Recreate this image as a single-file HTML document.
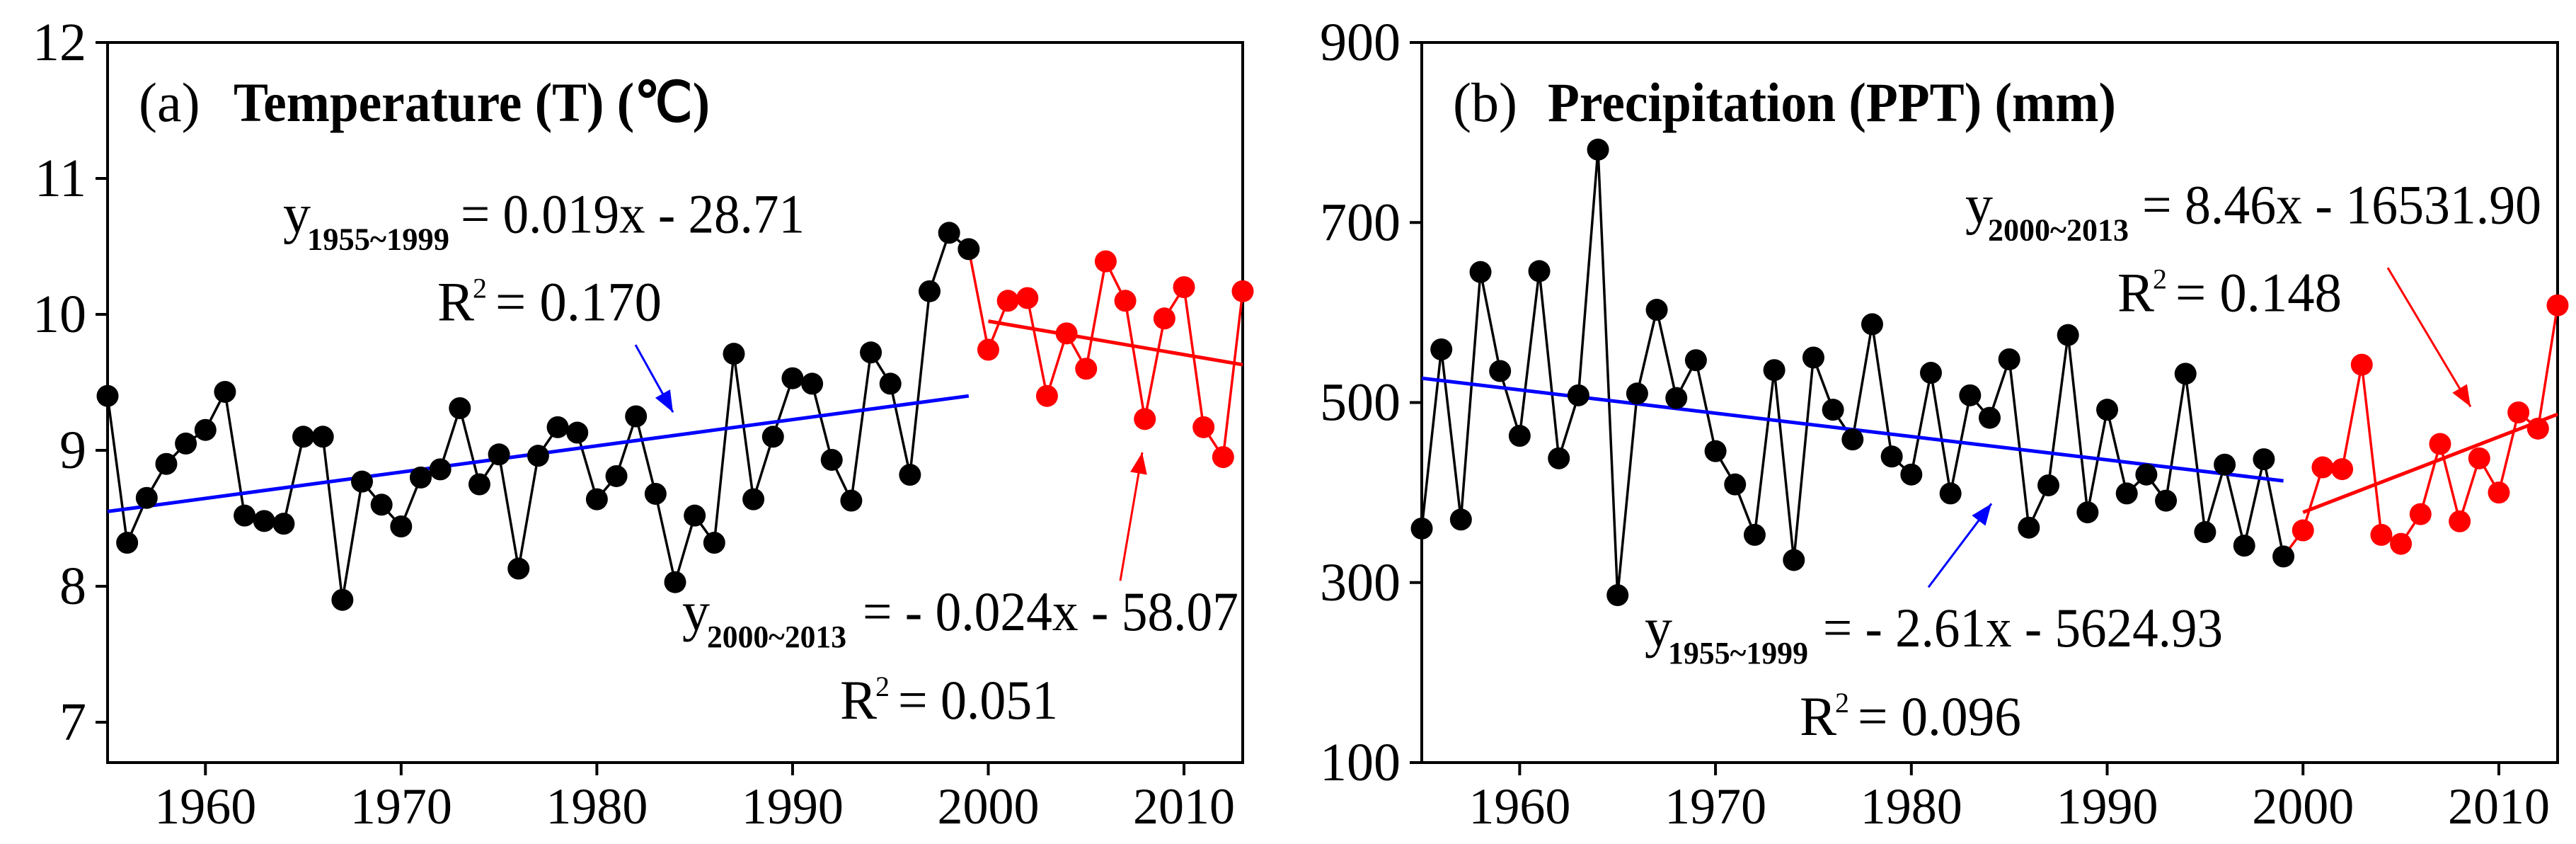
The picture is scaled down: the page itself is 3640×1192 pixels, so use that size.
<!DOCTYPE html>
<html><head><meta charset="utf-8"><style>
html,body{margin:0;padding:0;background:#fff}
svg{display:block}
svg text{font-family:"Liberation Serif","Times New Roman",serif}
</style></head><body>
<svg id="chart" xmlns="http://www.w3.org/2000/svg" width="3640" height="1192" viewBox="0 0 3640 1192" font-family="Liberation Serif, serif"></svg>
<script>
const years = [];
for (let y = 1955; y <= 2013; y++) years.push(y);
const tempValues = [9.4,8.32,8.65,8.9,9.05,9.15,9.43,8.52,8.48,8.46,9.1,9.1,7.9,8.77,8.6,8.44,8.8,8.86,9.31,8.75,8.97,8.13,8.96,9.17,9.13,8.64,8.81,9.25,8.68,8.03,8.52,8.32,9.71,8.64,9.1,9.53,9.49,8.93,8.63,9.72,9.49,8.82,10.17,10.6,10.48,9.74,10.1,10.12,9.4,9.86,9.6,10.39,10.1,9.23,9.97,10.2,9.17,8.95,10.17];
const pptValues = [360,559,370,645,535,463,646,438,508,781,286,510,603,505,547,446,409,353,536,325,550,492,459,587,440,420,533,399,508,483,548,361,408,575,378,492,399,420,391,532,356,431,341,437,329,358,428,426,542,353,343,376,454,368,438,400,489,471,608];
const tempTrend1 = [[1955,8.55],[1999,9.4]];
const tempTrend2 = [[2000,9.95],[2013,9.63]];
const pptTrend1 = [[1955,527],[1999,413]];
const pptTrend2 = [[2000,378],[2013,487]];
const tempTicks = [7,8,9,10,11,12];
const pptTicks = [100,300,500,700,900];
const xTicks = [1960,1970,1980,1990,2000,2010];

const NS = "http://www.w3.org/2000/svg";
const svg = document.getElementById('chart');
const K = 0.652;
function mk(tag, attrs, parent) {
  const e = document.createElementNS(NS, tag);
  for (const k in attrs) e.setAttribute(k, attrs[k]);
  (parent || svg).appendChild(e);
  return e;
}
function txt(parent, x, y, str, size, opts) {
  opts = opts || {};
  const t = mk('text', {x:x, y:y, 'font-family':'Liberation Serif, serif', 'font-size':size, 'text-anchor':opts.anchor||'start', 'font-weight':opts.bold?'bold':'normal', fill:'#000'}, parent);
  if (opts.len) { t.setAttribute('textLength', opts.len); t.setAttribute('lengthAdjust','spacingAndGlyphs'); }
  t.textContent = str;
  return t;
}

function panel(cfg) {
  const g = mk('g', {});
  
  
  const L = cfg.left, R = cfg.right, T = 60, B = 1077;
  const xs = v => L + (v - 1955) * (R - L) / (2013 - 1955);
  const ys = v => cfg.y0px + (v - cfg.y0) * (cfg.y1px - cfg.y0px) / (cfg.y1 - cfg.y0);
  const fr = mk('rect', {x:L, y:T, width:R-L, height:B-T, fill:'none', stroke:'#000', 'stroke-width':4}, g);
  
  
  cfg.yTicks.forEach(v => {
    const y = ys(v);
    const tk = mk('line', {x1:L-17, x2:L, y1:y, y2:y, stroke:'#000', 'stroke-width':4}, g);
    
    
    const lb = txt(g, L-30, y+25, String(v), 76, {anchor:'end'});
    
    
  });
  xTicks.forEach(v => {
    const x = xs(v);
    const tk = mk('line', {x1:x, x2:x, y1:B, y2:B+18, stroke:'#000', 'stroke-width':4}, g);
    
    
    const lb = txt(g, x, 1163, String(v), 72, {anchor:'middle'});
    
    
  });
  const vals = cfg.values;
  const p1 = [], p2 = [];
  years.forEach((yr, i) => { if (yr <= 1999) p1.push(xs(yr)+','+ys(vals[i])); if (yr >= 1999) p2.push(xs(yr)+','+ys(vals[i])); });
  const l1 = mk('polyline', {points:p1.join(' '), fill:'none', stroke:'#000', 'stroke-width':3.5}, g);
  
  
  const l2 = mk('polyline', {points:p2.join(' '), fill:'none', stroke:'#f00', 'stroke-width':3.5}, g);
  
  
  [[cfg.trend1,'#0000ff','trend-line-1955-1999'],[cfg.trend2,'#ff0000','trend-line-2000-2013']].forEach(([tr,c,n]) => {
    const l = mk('line', {x1:xs(tr[0][0]), y1:ys(tr[0][1]), x2:xs(tr[1][0]), y2:ys(tr[1][1]), stroke:c, 'stroke-width':5}, g);
    
    
  });
  years.forEach((yr, i) => {
    const m = mk('circle', {cx:xs(yr), cy:ys(vals[i]), r:15.5, fill: yr >= 2000 ? '#f00' : '#000'}, g);
    
    
  });
  const t1 = txt(g, cfg.labX, 262*K, cfg.label, 78);
  
  
  const t2 = txt(g, cfg.titleX, 262*K, cfg.title, 78, {bold:true, len:cfg.titleLen});
  
  
  cfg.eqs.forEach(e => {
    const by = e.by*K, rY = e.rY*K;
    const a = txt(g, e.x, by, 'y', 78);
    
    
    const s = txt(g, e.subX, by+24, e.sub, 44, {bold:true, len:e.subLen});
    
    
    const r = txt(g, e.eqX, by, e.eq, 78, {len:e.eqLen});
    
    
    const R2 = txt(g, e.rX, rY, 'R', 78);
    
    
    const sp = txt(g, e.rX+50, rY-32, '2', 40);
    
    
    const rv = txt(g, e.rX+82, rY, e.r, 78, {len:e.rLen});
    
    
    const x1 = e.arrow[0], y1 = e.arrow[1]*K, x2 = e.arrow[2], y2 = e.arrow[3]*K;
    const ln = mk('line', {x1, y1, x2, y2, stroke:e.color, 'stroke-width':3}, g);
    
    
    const ang = Math.atan2(y2-y1, x2-x1), hl = 30, hw = 12;
    const bx = x2 - hl*Math.cos(ang), bY = y2 - hl*Math.sin(ang);
    const px = -Math.sin(ang)*hw, py = Math.cos(ang)*hw;
    const hd = mk('polygon', {points:`${x2},${y2} ${bx+px},${bY+py} ${bx-px},${bY-py}`, fill:e.color}, g);
    
    
  });
}

panel({name:'temperature-panel', left:152, right:1756, values:tempValues, trend1:tempTrend1, trend2:tempTrend2,
  yTicks:tempTicks, y0:12, y0px:60, y1:7, y1px:1020,
  label:'(a)', labX:196, title:'Temperature (T) (℃)', titleX:330, titleLen:673,
  eqs:[
    {x:400, by:504, subX:434, sub:'1955~1999', subLen:201, eqX:651, eq:'= 0.019x - 28.71', eqLen:486, rX:618, rY:694, r:'= 0.170', rLen:235, arrow:[898,747,951,893], color:'#0000ff'},
    {x:964, by:1365, subX:999, sub:'2000~2013', subLen:197, eqX:1219, eq:'= - 0.024x - 58.07', eqLen:531, rX:1187, rY:1557, r:'= 0.051', rLen:226, arrow:[1583,1258,1614,980], color:'#ff0000'}
  ]});
panel({name:'precipitation-panel', left:2009, right:3614, values:pptValues, trend1:pptTrend1, trend2:pptTrend2,
  yTicks:pptTicks, y0:900, y0px:60, y1:100, y1px:1077,
  label:'(b)', labX:2053, title:'Precipitation (PPT) (mm)', titleX:2187, titleLen:803,
  eqs:[
    {x:2777, by:484, subX:2809, sub:'2000~2013', subLen:199, eqX:3027, eq:'= 8.46x - 16531.90', eqLen:564, rX:2992, rY:674, r:'= 0.148', rLen:235, arrow:[3374,580,3491,881], color:'#ff0000'},
    {x:2324, by:1400, subX:2357, sub:'1955~1999', subLen:198, eqX:2576, eq:'= - 2.61x - 5624.93', eqLen:565, rX:2543, rY:1592, r:'= 0.096', rLen:231, arrow:[2725,1272,2814,1091], color:'#0000ff'}
  ]});
</script>
</body></html>
